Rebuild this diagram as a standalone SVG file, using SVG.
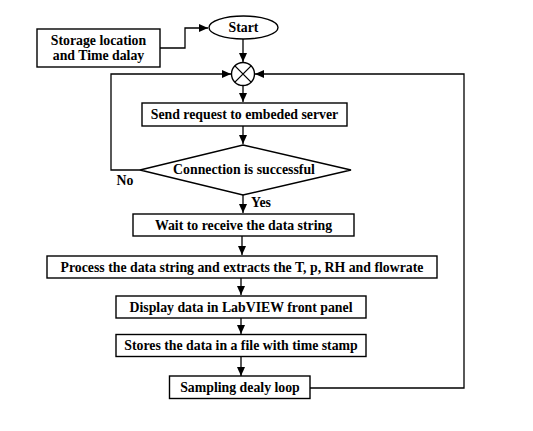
<svg xmlns="http://www.w3.org/2000/svg" width="533" height="431" viewBox="0 0 533 431">
<defs>
<marker id="ah" markerWidth="9" markerHeight="8" refX="9" refY="4" orient="auto" markerUnits="userSpaceOnUse">
<path d="M0,0 L9,4 L0,8 Z" fill="#000"/>
</marker>
<style>
.b{fill:#fff;stroke:#000;stroke-width:1.4}
.t{font-family:"Liberation Serif",serif;font-weight:bold;font-size:13.8px;text-anchor:middle;fill:#000}
.c{fill:none;stroke:#000;stroke-width:1.3}
</style>
</defs>
<rect width="533" height="431" fill="#fff"/>
<g id="connectors">
<path class="c" d="M160,48 H185 V28 H208" marker-end="url(#ah)"/>
<path class="c" d="M243,39 V62" marker-end="url(#ah)"/>
<path class="c" d="M243,86 V102" marker-end="url(#ah)"/>
<path class="c" d="M243,126 V144" marker-end="url(#ah)"/>
<path class="c" d="M140,170 H111 V74 H231" marker-end="url(#ah)"/>
<path class="c" d="M243,195 V213" marker-end="url(#ah)"/>
<path class="c" d="M242,236 V255" marker-end="url(#ah)"/>
<path class="c" d="M241,278 V295" marker-end="url(#ah)"/>
<path class="c" d="M241,318 V334" marker-end="url(#ah)"/>
<path class="c" d="M241,357 V376" marker-end="url(#ah)"/>
<path class="c" d="M310,388 H464 V74 H255" marker-end="url(#ah)"/>
<text class="t" x="125" y="185">No</text>
<text class="t" x="261" y="207">Yes</text>
</g>
<g id="storage">
<rect class="b" x="37" y="29" width="123" height="38"/>
<text class="t" x="98.5" y="45">Storage location</text>
<text class="t" x="98.5" y="60">and Time dalay</text>
</g>
<g id="start">
<ellipse class="b" cx="243.5" cy="27.5" rx="34.5" ry="11.5"/>
<text class="t" x="243.5" y="32">Start</text>
</g>
<g id="junction">
<circle class="b" cx="243" cy="74" r="11.5"/>
<path class="c" d="M234.9,65.9 L251.1,82.1 M251.1,65.9 L234.9,82.1"/>
</g>
<g id="send">
<rect class="b" x="142" y="103" width="205" height="23"/>
<text class="t" x="244.5" y="119">Send request to embeded server</text>
</g>
<g id="decision">
<polygon class="b" points="243,145 351,170 243,195 140,170"/>
<text class="t" x="244" y="174">Connection is successful</text>
</g>
<g id="wait">
<rect class="b" x="133" y="214" width="221" height="22"/>
<text class="t" x="243.5" y="229.5">Wait to receive the data string</text>
</g>
<g id="process">
<rect class="b" x="47" y="256" width="390" height="22"/>
<text class="t" x="242" y="271.5">Process the data string and extracts the T, p, RH and flowrate</text>
</g>
<g id="display">
<rect class="b" x="116" y="296" width="250" height="22"/>
<text class="t" x="241" y="311.5">Display data in LabVIEW front panel</text>
</g>
<g id="stores">
<rect class="b" x="116" y="334.5" width="250" height="22"/>
<text class="t" x="241" y="350">Stores the data in a file with time stamp</text>
</g>
<g id="sampling">
<rect class="b" x="169.5" y="376" width="140.5" height="22.5"/>
<text class="t" x="240" y="392">Sampling dealy loop</text>
</g>
</svg>
